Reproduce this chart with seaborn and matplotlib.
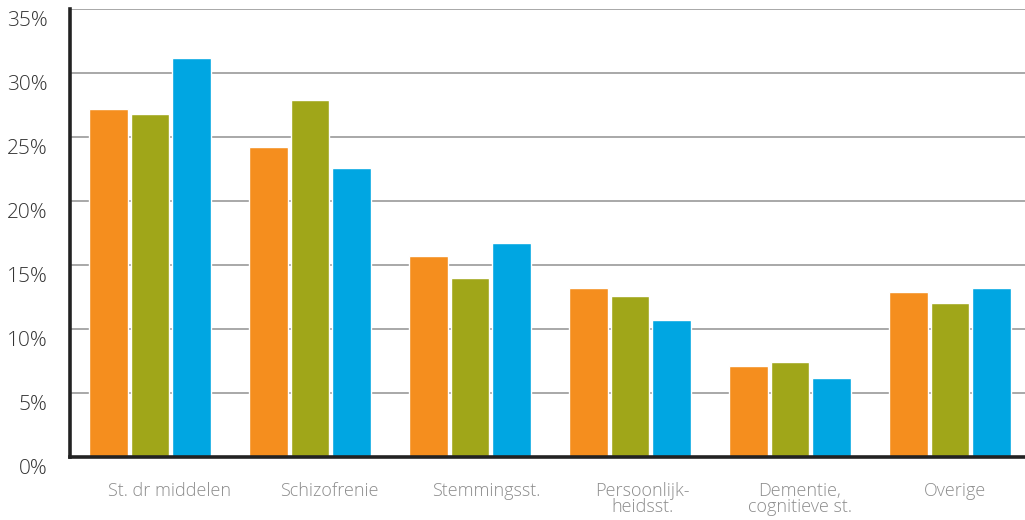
import pandas as pd
import matplotlib.pyplot as plt
import matplotlib.transforms as mtransforms
from matplotlib.ticker import FixedLocator, PercentFormatter
import seaborn as sns

# Data (percent)
categories = ["St. dr middelen", "Schizofrenie", "Stemmingsst.",
              "Persoonlijk-\nheidsst.", "Dementie,\ncognitieve st.", "Overige"]
series_names = ["Reeks 1", "Reeks 2", "Reeks 3"]
reeks_1 = [27.2, 24.2, 15.7, 13.2, 7.1, 12.9]
reeks_2 = [26.8, 27.9, 14.0, 12.6, 7.4, 12.0]
reeks_3 = [31.2, 22.6, 16.7, 10.7, 6.2, 13.2]
colors = ["#F58E1E", "#A0A619", "#00A6E2"]
y_ticks = [0, 5, 10, 15, 20, 25, 30, 35]

rows = []
for name, vals in zip(series_names, [reeks_1, reeks_2, reeks_3]):
    for cat, v in zip(categories, vals):
        rows.append({"categorie": cat, "reeks": name, "waarde": v})
df = pd.DataFrame(rows)

sns.set_style("white")
plt.rcParams["font.family"] = ["Open Sans", "DejaVu Sans"]
plt.rcParams["font.weight"] = "light"

fig = plt.figure(figsize=(10.25, 5.2), dpi=100)
ax = fig.add_axes([70 / 1025, 1 - 457 / 520, 960 / 1025, 448 / 520])

sns.barplot(data=df, x="categorie", y="waarde", hue="reeks",
            palette=colors, width=0.78, gap=0.07, saturation=1,
            legend=False, ax=ax, zorder=3)

ax.set_xlim(-0.5, len(categories) - 0.5)
ax.set_ylim(0, 35)
ax.set_yticks(y_ticks)
ax.yaxis.set_major_formatter(PercentFormatter(decimals=0))
ax.grid(axis="y", color="#a8a8a8", linewidth=1.4, zorder=0)
ax.grid(axis="x", visible=False)
ax.set_axisbelow(True)

# category labels sit a little to the right of the bar groups
label_pos = [0.12, 1.12, 2.10, 3.08, 4.06, 5.03]
ax.set_xticks(label_pos)
ax.set_xticklabels(categories, color="#8c8c8c", fontsize=13, linespacing=0.88,
                   fontweight="light")
ax.tick_params(axis="x", which="major", length=0, pad=18)
ax.xaxis.set_minor_locator(FixedLocator([i - 0.5 for i in range(len(categories) + 1)]))
ax.tick_params(axis="x", which="minor", direction="in", length=7, width=1.4,
               color="#9a9a9a")

ax.tick_params(axis="y", length=0, pad=16, labelsize=15, labelcolor="#333333")
shift = mtransforms.ScaledTranslation(0, -9 / 100, fig.dpi_scale_trans)
for lbl in ax.get_yticklabels():
    lbl.set_fontweight("light")
    lbl.set_transform(lbl.get_transform() + shift)

for side in ["top", "right"]:
    ax.spines[side].set_visible(False)
for side in ["left", "bottom"]:
    ax.spines[side].set_color("#222222")
    ax.spines[side].set_linewidth(2.6)
    ax.spines[side].set_zorder(4)

ax.set_xlabel("")
ax.set_ylabel("")

fig.savefig("out.png", dpi=100)
plt.close(fig)
